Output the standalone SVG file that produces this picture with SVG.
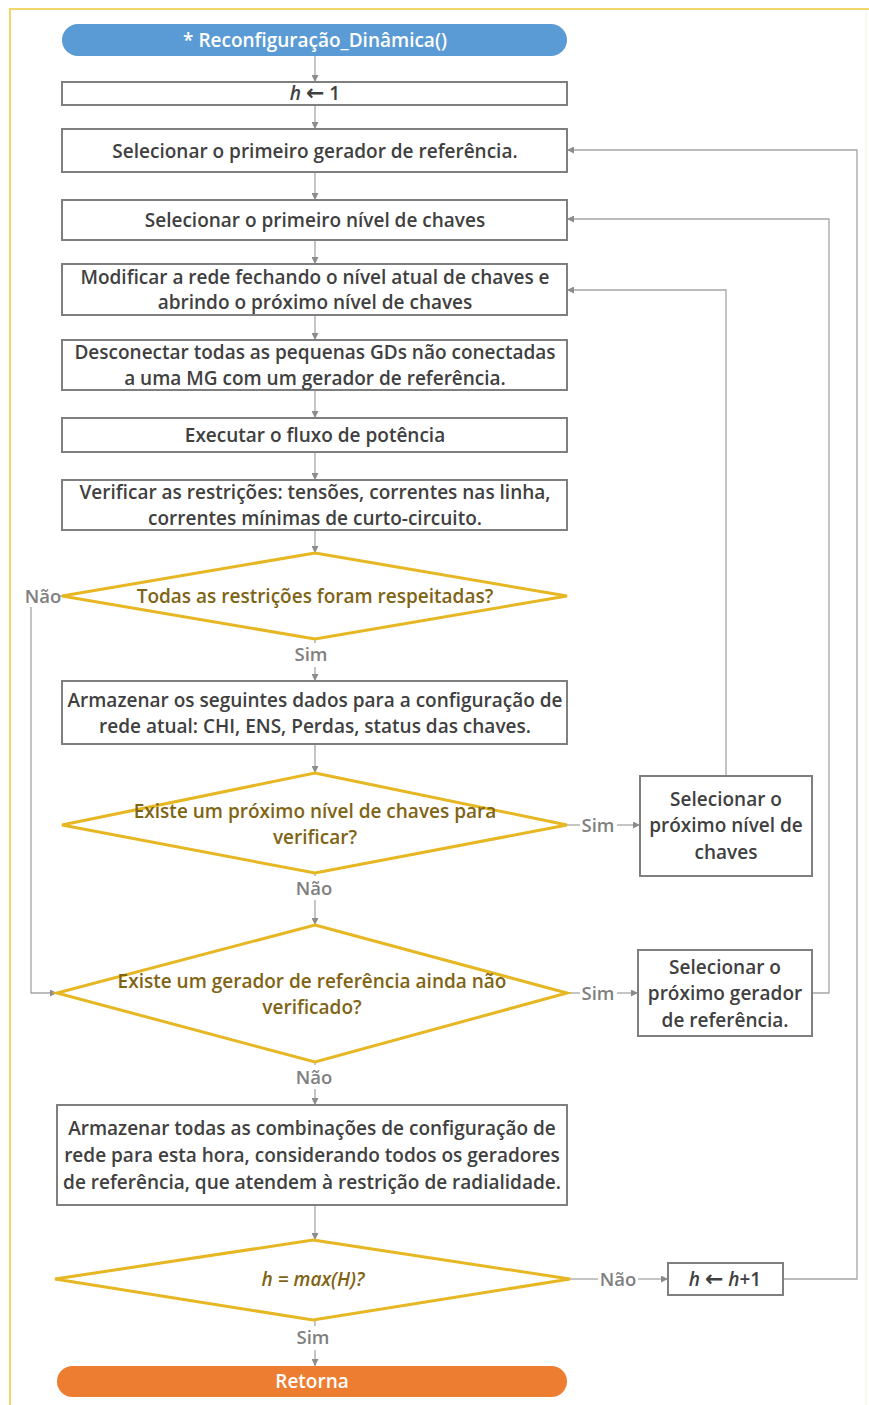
<svg xmlns="http://www.w3.org/2000/svg" width="869" height="1405" viewBox="0 0 869 1405">
<defs>
<style>
.box{fill:#fff;stroke:#7f7f7f;stroke-width:2}
.dia{fill:#fff;stroke:#e6b722;stroke-width:3;stroke-linejoin:miter}
.t{font-family:"Open Sans","Liberation Sans",sans-serif;font-weight:600;font-size:19px;fill:#404040;text-anchor:middle}
.dt{font-family:"Open Sans","Liberation Sans",sans-serif;font-weight:600;font-size:19px;fill:#7f6414;text-anchor:middle}
.lb{font-family:"Open Sans","Liberation Sans",sans-serif;font-weight:600;font-size:18.5px;fill:#808080;text-anchor:middle}
.wt{font-family:"Open Sans","Liberation Sans",sans-serif;font-weight:600;font-size:19px;fill:#fff;text-anchor:middle}
.ar{font-family:"DejaVu Sans",sans-serif;font-weight:bold;font-size:22px}
.c{fill:none;stroke:#a6a6a6;stroke-width:1.3}
</style>
<marker id="a" viewBox="0 0 10 10" refX="10" refY="5" markerWidth="7" markerHeight="7" orient="auto" markerUnits="userSpaceOnUse">
<path d="M0,0 L10,5 L0,10 z" fill="#8c8c8c"/>
</marker>
</defs>
<rect width="869" height="1405" fill="#fff"/>
<path d="M10,1405 L10,9 L869,9" fill="none" stroke="#f2d66b" stroke-width="2"/>
<line x1="866" y1="12" x2="866" y2="1405" stroke="#fbf3d6" stroke-width="1"/>

<g id="connectors">
<path class="c" d="M315,56 V82" marker-end="url(#a)"/>
<path class="c" d="M315,105 V129" marker-end="url(#a)"/>
<path class="c" d="M315,172 V200" marker-end="url(#a)"/>
<path class="c" d="M315,240 V264" marker-end="url(#a)"/>
<path class="c" d="M315,315 V340" marker-end="url(#a)"/>
<path class="c" d="M315,390 V418" marker-end="url(#a)"/>
<path class="c" d="M315,452 V480" marker-end="url(#a)"/>
<path class="c" d="M315,530 V553" marker-end="url(#a)"/>
<path class="c" d="M315,639 V643"/>
<path class="c" d="M315,667 V681" marker-end="url(#a)"/>
<path class="c" d="M60,596 H62"/>
<path class="c" d="M31,607 V993 H57" marker-end="url(#a)"/>
<path class="c" d="M315,744 V773" marker-end="url(#a)"/>
<path class="c" d="M567,825 H580"/>
<path class="c" d="M617,825 H640" marker-end="url(#a)"/>
<path class="c" d="M726,776 V290 H567" marker-end="url(#a)"/>
<path class="c" d="M315,873 V876"/>
<path class="c" d="M315,900 V925" marker-end="url(#a)"/>
<path class="c" d="M567,993 H580"/>
<path class="c" d="M617,993 H638" marker-end="url(#a)"/>
<path class="c" d="M812,993 H829 V219 H567" marker-end="url(#a)"/>
<path class="c" d="M315,1062 V1065"/>
<path class="c" d="M315,1089 V1105" marker-end="url(#a)"/>
<path class="c" d="M315,1205 V1240" marker-end="url(#a)"/>
<path class="c" d="M570,1279 H598"/>
<path class="c" d="M638,1279 H668" marker-end="url(#a)"/>
<path class="c" d="M783,1279 H857 V150 H567" marker-end="url(#a)"/>
<path class="c" d="M315,1320 V1326"/>
<path class="c" d="M315,1350 V1366" marker-end="url(#a)"/>
<text class="lb" x="43" y="603">Não</text>
<text class="lb" x="311" y="661">Sim</text>
<text class="lb" x="598" y="832">Sim</text>
<text class="lb" x="314" y="895">Não</text>
<text class="lb" x="598" y="1000">Sim</text>
<text class="lb" x="314" y="1084">Não</text>
<text class="lb" x="618" y="1286">Não</text>
<text class="lb" x="313" y="1344">Sim</text>
</g>

<g id="start">
<rect x="62" y="24" width="505" height="32" rx="16" fill="#5b9bd5"/>
<text class="wt" x="315" y="46.5">* Reconfiguração_Dinâmica()</text>
</g>
<g id="h1">
<rect class="box" x="62" y="82" width="505" height="23"/>
<text class="t" x="315" y="100"><tspan font-style="italic">h</tspan> <tspan class="ar">←</tspan> 1</text>
</g>
<g id="sel-gerador">
<rect class="box" x="62" y="129" width="505" height="43"/>
<text class="t" x="315" y="157.5">Selecionar o primeiro gerador de referência.</text>
</g>
<g id="sel-nivel">
<rect class="box" x="62" y="200" width="505" height="40"/>
<text class="t" x="315" y="226.5">Selecionar o primeiro nível de chaves</text>
</g>
<g id="modificar">
<rect class="box" x="62" y="264" width="505" height="51"/>
<text class="t" x="315" y="284">Modificar a rede fechando o nível atual de chaves e</text>
<text class="t" x="315" y="309">abrindo o próximo nível de chaves</text>
</g>
<g id="desconectar">
<rect class="box" x="62" y="340" width="505" height="50"/>
<text class="t" x="315" y="358.5">Desconectar todas as pequenas GDs não conectadas</text>
<text class="t" x="315" y="384.5">a uma MG com um gerador de referência.</text>
</g>
<g id="executar">
<rect class="box" x="62" y="418" width="505" height="34"/>
<text class="t" x="315" y="442">Executar o fluxo de potência</text>
</g>
<g id="verificar">
<rect class="box" x="62" y="480" width="505" height="50"/>
<text class="t" x="315" y="498.5">Verificar as restrições: tensões, correntes nas linha,</text>
<text class="t" x="315" y="524.5">correntes mínimas de curto-circuito.</text>
</g>
<g id="dec-restricoes">
<polygon class="dia" points="315,553 567,596 315,639 62,596"/>
<text class="dt" x="315" y="603">Todas as restrições foram respeitadas?</text>
</g>
<g id="armazenar-dados">
<rect class="box" x="62" y="681" width="505" height="63"/>
<text class="t" x="315" y="706.5">Armazenar os seguintes dados para a configuração de</text>
<text class="t" x="315" y="732.5">rede atual: CHI, ENS, Perdas, status das chaves.</text>
</g>
<g id="dec-nivel">
<polygon class="dia" points="315,773 567,825 315,873 62,825"/>
<text class="dt" x="315" y="817.5">Existe um próximo nível de chaves para</text>
<text class="dt" x="315" y="843.5">verificar?</text>
</g>
<g id="prox-nivel">
<rect class="box" x="640" y="776" width="172" height="100"/>
<text class="t" x="726" y="806">Selecionar o</text>
<text class="t" x="726" y="832">próximo nível de</text>
<text class="t" x="726" y="859">chaves</text>
</g>
<g id="dec-gerador">
<polygon class="dia" points="315,925 567,993 315,1062 57,993"/>
<text class="dt" x="312" y="987.5">Existe um gerador de referência ainda não</text>
<text class="dt" x="312" y="1013.5">verificado?</text>
</g>
<g id="prox-gerador">
<rect class="box" x="638" y="950" width="174" height="86"/>
<text class="t" x="725" y="973.5">Selecionar o</text>
<text class="t" x="725" y="999.5">próximo gerador</text>
<text class="t" x="725" y="1026.5">de referência.</text>
</g>
<g id="armazenar-todas">
<rect class="box" x="57" y="1105" width="510" height="100"/>
<text class="t" x="312" y="1134.5">Armazenar todas as combinações de configuração de</text>
<text class="t" x="312" y="1161.5">rede para esta hora, considerando todos os geradores</text>
<text class="t" x="312" y="1188.5">de referência, que atendem à restrição de radialidade.</text>
</g>
<g id="dec-hora">
<polygon class="dia" points="313,1240 570,1279 313,1320 55,1279"/>
<text class="dt" x="313" y="1286" font-style="italic">h = max(H)?</text>
</g>
<g id="h-inc">
<rect class="box" x="668" y="1263" width="115" height="32"/>
<text class="t" x="725" y="1286"><tspan font-style="italic">h</tspan> <tspan class="ar">←</tspan> <tspan font-style="italic">h</tspan>+1</text>
</g>
<g id="retorna">
<rect x="57" y="1366" width="510" height="31" rx="15.5" fill="#ed7d31"/>
<text class="wt" x="312" y="1388">Retorna</text>
</g>
</svg>
